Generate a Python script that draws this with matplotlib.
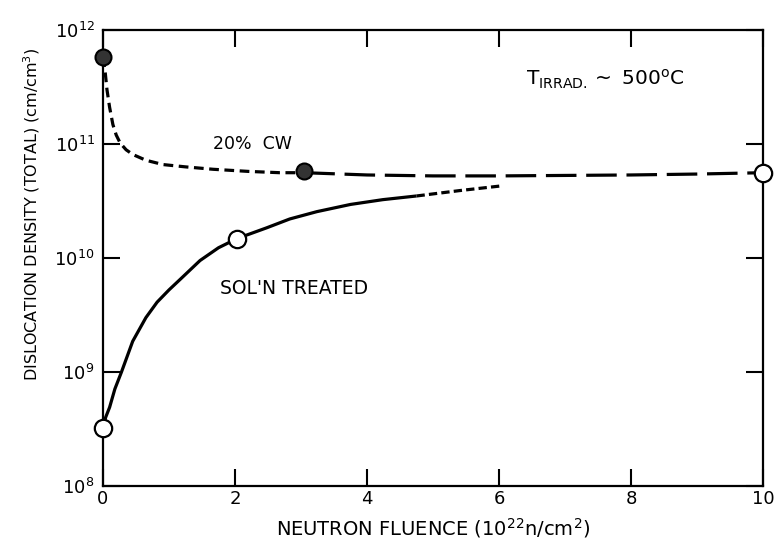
import numpy as np
import matplotlib
matplotlib.use("Agg")
import matplotlib.pyplot as plt

# 20% cold worked curve (dashed) and its measured points
cw_x = [0, 0.03, 0.06, 0.1, 0.15, 0.2, 0.26, 0.35, 0.45, 0.65, 0.91, 1.25, 1.67, 2.2, 2.68, 3.05]
cw_y = [5.75e11, 4.45e11, 3.0e11, 2.1e11, 1.48e11, 1.2e11, 1.02e11, 8.9e10, 8.1e10,
        7.2e10, 6.6e10, 6.3e10, 6.0e10, 5.75e10, 5.6e10, 5.6e10]
cw_tail_x = [3.05, 4, 5, 6, 7, 8, 9, 10]
cw_tail_y = [5.6e10, 5.35e10, 5.25e10, 5.25e10, 5.3e10, 5.35e10, 5.45e10, 5.6e10]
cw_pts_x = [0, 3.05]
cw_pts_y = [5.75e11, 5.75e10]

# solution treated curve (solid, then dashed extrapolation)
sol_x = [0, 0.04, 0.1, 0.18, 0.28, 0.45, 0.65, 0.82, 1.0, 1.17, 1.47, 1.75, 2.03,
         2.48, 2.83, 3.24, 3.75, 4.24, 4.75]
sol_y = [3.2e8, 4.0e8, 4.9e8, 7.1e8, 1.0e9, 1.86e9, 3.0e9, 4.1e9, 5.25e9, 6.5e9, 9.5e9,
         1.23e10, 1.48e10, 1.84e10, 2.2e10, 2.55e10, 2.95e10, 3.25e10, 3.5e10]
sol_ext_x = [4.75, 5.4, 6.05]
sol_ext_y = [3.5e10, 3.9e10, 4.3e10]
open_pts_x = [0, 2.03, 10]
open_pts_y = [3.2e8, 1.48e10, 5.6e10]

x_ticks = [0, 2, 4, 6, 8, 10]
y_ticks = [1e8, 1e9, 1e10, 1e11, 1e12]

plt.rcParams['lines.scale_dashes'] = False

fig = plt.figure(figsize=(7.74, 5.45), dpi=100)
ax = fig.add_axes([103 / 774, 1 - 486 / 545, 660 / 774, 456 / 545])

lw = 2.3
ax.plot(cw_x, cw_y, color='black', lw=lw, dashes=(7, 4))
ax.plot(cw_tail_x, cw_tail_y, color='black', lw=lw, dashes=(22, 7))
ax.plot(sol_x, sol_y, color='black', lw=lw, solid_capstyle='butt')
ax.plot(sol_ext_x, sol_ext_y, color='black', lw=lw, dashes=(6, 3))

ax.plot(cw_pts_x, cw_pts_y, 'o', ms=11.5, mfc='#333333', mec='black', mew=1.5,
        clip_on=False, zorder=5)
ax.plot(open_pts_x, open_pts_y, 'o', ms=12.5, mfc='white', mec='black', mew=1.6,
        clip_on=False, zorder=5)

ax.set_yscale('log')
ax.set_xlim(0, 10)
ax.set_ylim(1e8, 1e12)
ax.set_xticks(x_ticks)
ax.set_xticklabels([str(t) for t in x_ticks])
ax.set_yticks(y_ticks)
ax.minorticks_off()
ax.tick_params(direction='in', length=12, width=1.5, top=True, right=True,
               labelsize=13, pad=3)
ax.tick_params(axis='y', pad=6)
for s in ax.spines.values():
    s.set_linewidth(1.6)

ax.text(1.67, 9.9e10, "20%  CW", fontsize=12.5, va='center', ha='left')
ax.text(1.77, 5.4e9, "SOL'N TREATED", fontsize=13.5, va='center', ha='left')
ax.text(6.41, 3.7e11, r"T$_{\mathregular{IRRAD.}}$$\sim$ 500$^{\mathregular{o}}$C",
        fontsize=14.5, va='center', ha='left')

ax.set_xlabel(r"NEUTRON FLUENCE (10$^{\mathregular{22}}$n/cm$^{\mathregular{2}}$)",
              fontsize=14, labelpad=6)
fig.text(32 / 774, 1 - 214 / 545,
         r"DISLOCATION DENSITY (TOTAL) (cm/cm$^{\mathregular{3}}$)",
         rotation=90, fontsize=11.5, ha='center', va='center')

fig.savefig('out.png', dpi=100)
